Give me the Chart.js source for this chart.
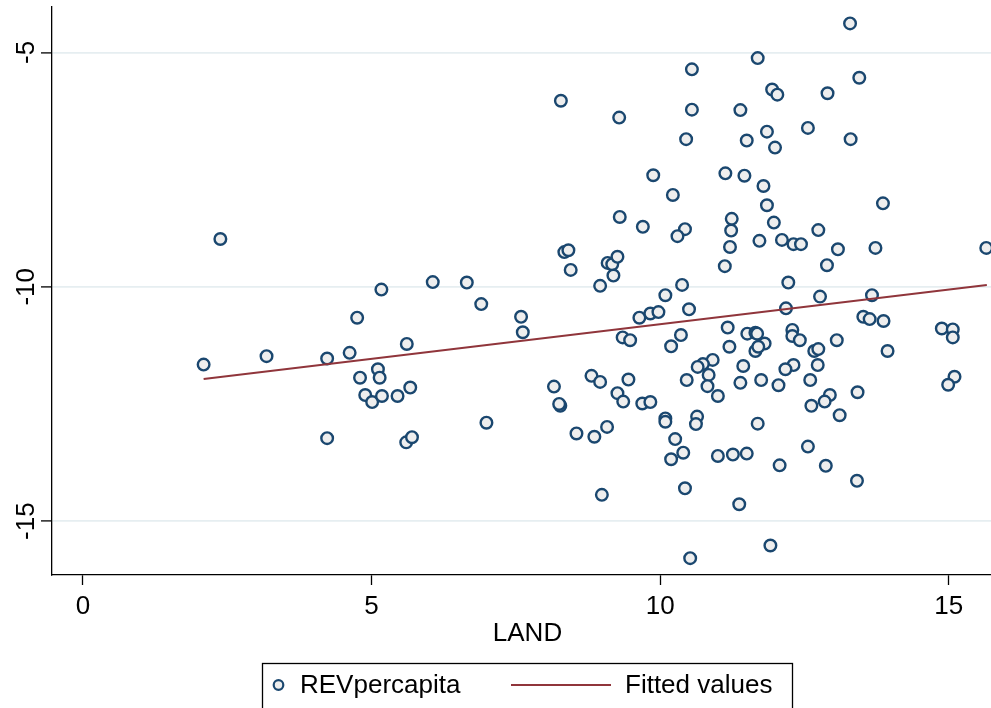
<!DOCTYPE html>
<html>
<head>
<meta charset="utf-8">
<script src="https://cdn.jsdelivr.net/npm/chart.js@4.4.1/dist/chart.umd.min.js"></script>
<style>
  html, body { margin: 0; padding: 0; background: #fff; }
  #wrap { width: 991px; height: 708px; overflow: hidden; }
</style>
</head>
<body>
<div id="wrap"><canvas id="landChart" width="991" height="708"></canvas></div>
<script>
// scatter values
const landValues = [
    2.38, 2.09, 3.18, 4.23, 4.23, 8.28, 9.29, 9.88, 9.30, 9.70,
    8.34, 8.41, 8.45, 9.09, 9.17, 9.26, 9.19, 8.96, 5.17, 6.06,
    6.65, 6.90, 4.75, 4.62, 5.61, 5.11, 5.14, 4.80, 4.89, 5.01,
    5.18, 5.45, 5.67, 5.60, 5.70, 6.99, 7.59, 7.62, 9.35, 9.48,
    9.64, 9.83, 9.97, 10.09, 8.16, 8.27, 8.25, 8.81, 8.96, 9.45,
    9.26, 9.36, 9.69, 9.83, 10.09, 10.09, 8.55, 8.86, 9.08, 8.99,
    13.29, 11.69, 10.55, 13.45, 11.94, 12.03, 12.90, 10.55, 11.39, 10.45,
    11.85, 12.56, 11.50, 11.99, 13.30, 11.13, 11.46, 11.79, 10.22, 11.85,
    13.86, 11.24, 11.97, 10.43, 10.30, 11.23, 12.74, 11.21, 11.72, 12.11,
    12.31, 12.44, 13.08, 13.73, 15.65, 11.12, 12.89, 10.38, 12.22, 12.77,
    13.67, 10.50, 12.18, 13.52, 13.63, 13.87, 14.88, 15.07, 15.07, 13.94,
    11.17, 10.36, 10.19, 11.20, 11.51, 11.65, 11.68, 11.81, 11.65, 11.70,
    12.29, 12.29, 12.42, 12.67, 12.74, 13.06, 12.73, 12.31, 12.17, 11.44,
    10.91, 10.74, 10.65, 10.84, 10.46, 10.82, 11.00, 11.39, 11.75, 12.05,
    12.60, 12.94, 12.85, 12.62, 13.11, 13.42, 15.10, 14.99, 10.64, 10.62,
    11.69, 10.26, 10.40, 10.19, 11.00, 11.26, 11.50, 12.07, 12.56, 12.87,
    13.41, 10.43, 11.37, 11.91, 10.52
];
const revValues = [
    -8.98, -11.66, -11.48, -11.53, -13.23, -6.03, -6.39, -7.62, -8.51, -8.72,
    -9.26, -9.22, -9.64, -9.49, -9.52, -9.36, -9.76, -9.98, -10.06, -9.90,
    -9.91, -10.37, -10.66, -11.41, -11.22, -11.76, -11.94, -11.94, -12.31, -12.46,
    -12.33, -12.33, -12.15, -13.32, -13.21, -12.90, -10.64, -10.97, -11.08, -11.14,
    -10.66, -10.57, -10.54, -10.18, -12.13, -12.54, -12.50, -11.90, -12.03, -11.98,
    -12.27, -12.45, -12.49, -12.46, -12.81, -12.88, -13.13, -13.20, -12.99, -14.44,
    -4.38, -5.12, -5.36, -5.54, -5.79, -5.90, -5.87, -6.22, -6.23, -6.85,
    -6.69, -6.61, -6.88, -7.03, -6.85, -7.58, -7.63, -7.85, -8.04, -8.26,
    -8.22, -8.55, -8.63, -8.77, -8.92, -8.80, -8.79, -9.15, -9.02, -9.00,
    -9.09, -9.09, -9.20, -9.17, -9.17, -9.56, -9.54, -9.96, -9.91, -10.21,
    -10.18, -10.48, -10.46, -10.64, -10.69, -10.73, -10.89, -10.91, -11.08, -11.37,
    -10.87, -11.03, -11.27, -11.28, -11.00, -10.98, -11.00, -11.21, -11.37, -11.28,
    -10.92, -11.05, -11.14, -11.37, -11.33, -11.14, -11.67, -11.67, -11.76, -11.69,
    -11.56, -11.65, -11.71, -11.88, -11.99, -12.12, -12.33, -12.05, -11.99, -12.10,
    -11.99, -12.31, -12.45, -12.54, -12.74, -12.25, -11.92, -12.09, -12.77, -12.93,
    -12.92, -13.25, -13.54, -13.68, -13.61, -13.58, -13.56, -13.81, -13.41, -13.82,
    -14.14, -14.30, -14.64, -15.52, -15.79
];

// fitted line end points
const fitLand = [2.09, 15.66];
const fitRev = [-11.97, -9.96];

const xTickValues = [0, 5, 10, 15];
const yTickValues = [-15, -10, -5];
const seriesNames = ['REVpercapita', 'Fitted values'];
const xTitle = 'LAND';

const FONT = "'Liberation Sans', Arial, Helvetica, sans-serif";
Chart.defaults.font.family = FONT;
Chart.defaults.color = '#000';

// Stata-like boxed legend under the plot
const boxedLegend = {
    id: 'boxedLegend',
    afterDraw(chart) {
        const ctx = chart.ctx;
        const sets = chart.data.datasets;
        ctx.save();
        ctx.lineWidth = 1.3;
        ctx.strokeStyle = '#000';
        ctx.strokeRect(262.5, 663.5, 530, 70);

        ctx.fillStyle = sets[0].pointBackgroundColor;
        ctx.strokeStyle = sets[0].pointBorderColor;
        ctx.lineWidth = 2.2;
        ctx.beginPath();
        ctx.arc(278.5, 685, 4.8, 0, Math.PI * 2);
        ctx.fill();
        ctx.stroke();

        ctx.strokeStyle = sets[1].borderColor;
        ctx.lineWidth = sets[1].borderWidth;
        ctx.beginPath();
        ctx.moveTo(511, 685);
        ctx.lineTo(611, 685);
        ctx.stroke();

        ctx.fillStyle = '#000';
        ctx.font = '26px ' + FONT;
        ctx.textBaseline = 'alphabetic';
        ctx.fillText(sets[0].label, 300, 693);
        ctx.fillText(sets[1].label, 625, 693);
        ctx.restore();
    }
};

// the original plot region runs a little past the right edge of the picture
const widePlot = {
    id: 'widePlot',
    afterLayout(chart) {
        const s = chart.scales.x;
        s.right = 1003;
        s.width = s.right - s.left;
        s.configure();
    }
};

// drop the label overhang padding so the plot box sits where it should
const noOverhang = s => {
    s.paddingTop = 0;
    s.paddingBottom = 0;
    s.paddingLeft = 0;
    s.paddingRight = 0;
};

new Chart(document.getElementById('landChart'), {
    type: 'scatter',
    data: {
        datasets: [{
            label: seriesNames[0],
            data: landValues.map((x, i) => ({ x: x, y: revValues[i] })),
            pointRadius: 5.8,
            pointHoverRadius: 5.8,
            pointBorderWidth: 2.4,
            pointBorderColor: '#1a476f',
            pointBackgroundColor: '#eeeeee',
            order: 1
        }, {
            label: seriesNames[1],
            type: 'line',
            data: fitLand.map((x, i) => ({ x: x, y: fitRev[i] })),
            borderColor: '#90353b',
            borderWidth: 2,
            pointRadius: 0,
            fill: false,
            tension: 0,
            order: 0
        }]
    },
    options: {
        responsive: false,
        animation: false,
        devicePixelRatio: 1,
        events: [],
        layout: { autoPadding: false, padding: { top: 7, left: 0, right: 0, bottom: 0 } },
        plugins: {
            legend: { display: false },
            tooltip: { enabled: false }
        },
        scales: {
            x: {
                type: 'linear',
                min: -0.537,
                max: 15.94,
                afterBuildTicks: s => { s.ticks = xTickValues.map(v => ({ value: v })); },
                afterFit: s => { s.height = 133; noOverhang(s); },
                grid: { drawOnChartArea: false, drawTicks: true, tickLength: 10, tickWidth: 1.3, tickColor: '#000' },
                border: { display: true, color: '#000', width: 1.3 },
                ticks: { font: { size: 26 }, color: '#000', padding: 6, maxRotation: 0, autoSkip: false },
                title: { display: true, text: xTitle, font: { size: 26 }, color: '#000', padding: { top: 0, bottom: 59 } }
            },
            y: {
                type: 'linear',
                min: -16.15,
                max: -4.03,
                afterBuildTicks: s => { s.ticks = yTickValues.map(v => ({ value: v })); },
                afterFit: s => { s.width = 52; noOverhang(s); },
                grid: { color: '#e6eef1', lineWidth: 1.8, drawTicks: true, tickLength: 11, tickWidth: 1.3, tickColor: '#000' },
                border: { display: true, color: '#000', width: 1.3 },
                ticks: { font: { size: 26 }, color: '#000', minRotation: 90, maxRotation: 90, crossAlign: 'center', padding: -5 }
            }
        }
    },
    plugins: [widePlot, boxedLegend]
});
</script>
</body>
</html>
